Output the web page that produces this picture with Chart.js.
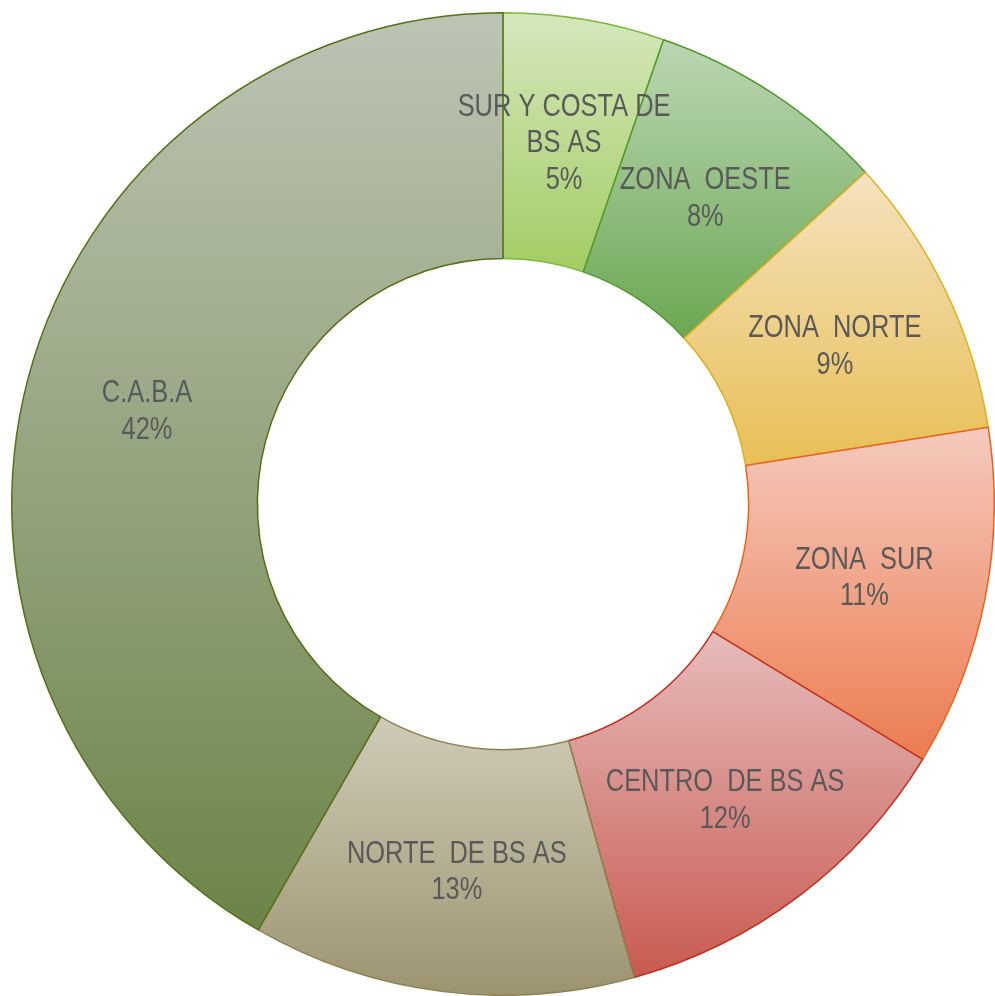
<!DOCTYPE html>
<html>
<head>
<meta charset="utf-8">
<script src="https://cdn.jsdelivr.net/npm/chart.js@4"></script>
<style>
html,body{margin:0;padding:0;background:#fff;}
#wrap{width:995px;height:996px;position:relative;}
</style>
</head>
<body>
<div id="wrap"><canvas id="c" width="995" height="996"></canvas></div>
<script>
const categories = [['SUR Y COSTA DE','BS AS'], ['ZONA  OESTE'], ['ZONA  NORTE'], ['ZONA  SUR'], ['CENTRO  DE BS AS'], ['NORTE  DE BS AS'], ['C.A.B.A']];
const values = [5.3, 7.9, 9.3, 11.2, 12.0, 12.6, 41.7];
const topColors = ['#d5e8bd', '#bcd6b3', '#f5e2bf', '#f5cabd', '#e6bcbc', '#d0cbb8', '#bcc4b4'];
const bottomColors = ['#a3cc63', '#6aa852', '#e8bf55', '#ec7c50', '#c85a50', '#9c9470', '#6c8448'];
const borderColors = ['#7cb83a', '#4e9a28', '#e0b020', '#e8641c', '#c0301c', '#8c8450', '#557015'];

const gradientPlugin = {
  id: 'sliceGradient',
  beforeDatasetsDraw(chart) {
    const ctx = chart.ctx;
    const meta = chart.getDatasetMeta(0);
    meta.data.forEach((el, i) => {
      const p = el.getProps(['x','y','startAngle','endAngle','innerRadius','outerRadius'], true);
      let minY = Infinity, maxY = -Infinity;
      const n = 60;
      for (let k = 0; k <= n; k++) {
        const a = p.startAngle + (p.endAngle - p.startAngle) * k / n;
        for (const r of [p.innerRadius, p.outerRadius]) {
          const y = p.y + r * Math.sin(a);
          if (y < minY) minY = y;
          if (y > maxY) maxY = y;
        }
      }
      const g = ctx.createLinearGradient(0, minY, 0, maxY);
      g.addColorStop(0, topColors[i]);
      g.addColorStop(1, bottomColors[i]);
      el.options.backgroundColor = g;
    });
  }
};

const labelPlugin = {
  id: 'sliceLabels',
  afterDatasetsDraw(chart) {
    const ctx = chart.ctx;
    const meta = chart.getDatasetMeta(0);
    const total = values.reduce((a, b) => a + b, 0);
    const sx = 0.82;
    const lh = 36.5;
    meta.data.forEach((el, i) => {
      const c = el.getCenterPoint();
      const lines = categories[i].concat([Math.round(values[i] / total * 100) + '%']);
      const y0 = c.y + 3 - (lines.length - 1) * lh / 2;
      ctx.save();
      ctx.fillStyle = '#595959';
      ctx.font = '31px "Liberation Sans", Arial, sans-serif';
      ctx.textAlign = 'center';
      ctx.textBaseline = 'middle';
      ctx.translate(c.x, 0);
      ctx.scale(sx, 1);
      lines.forEach((t, j) => ctx.fillText(t, 0, y0 + j * lh));
      ctx.restore();
    });
  }
};

new Chart(document.getElementById('c'), {
  type: 'doughnut',
  data: {
    labels: categories,
    datasets: [{
      data: values,
      backgroundColor: (ctx) => topColors[ctx.dataIndex],
      borderColor: borderColors,
      borderWidth: 1.5,
      borderAlign: 'center'
    }]
  },
  options: {
    responsive: false,
    animation: false,
    cutout: '50%',
    layout: { padding: { left: 11, right: 0, top: 12, bottom: 0 } },
    plugins: { legend: { display: false }, tooltip: { enabled: false } }
  },
  plugins: [gradientPlugin, labelPlugin]
});
</script>
</body>
</html>
